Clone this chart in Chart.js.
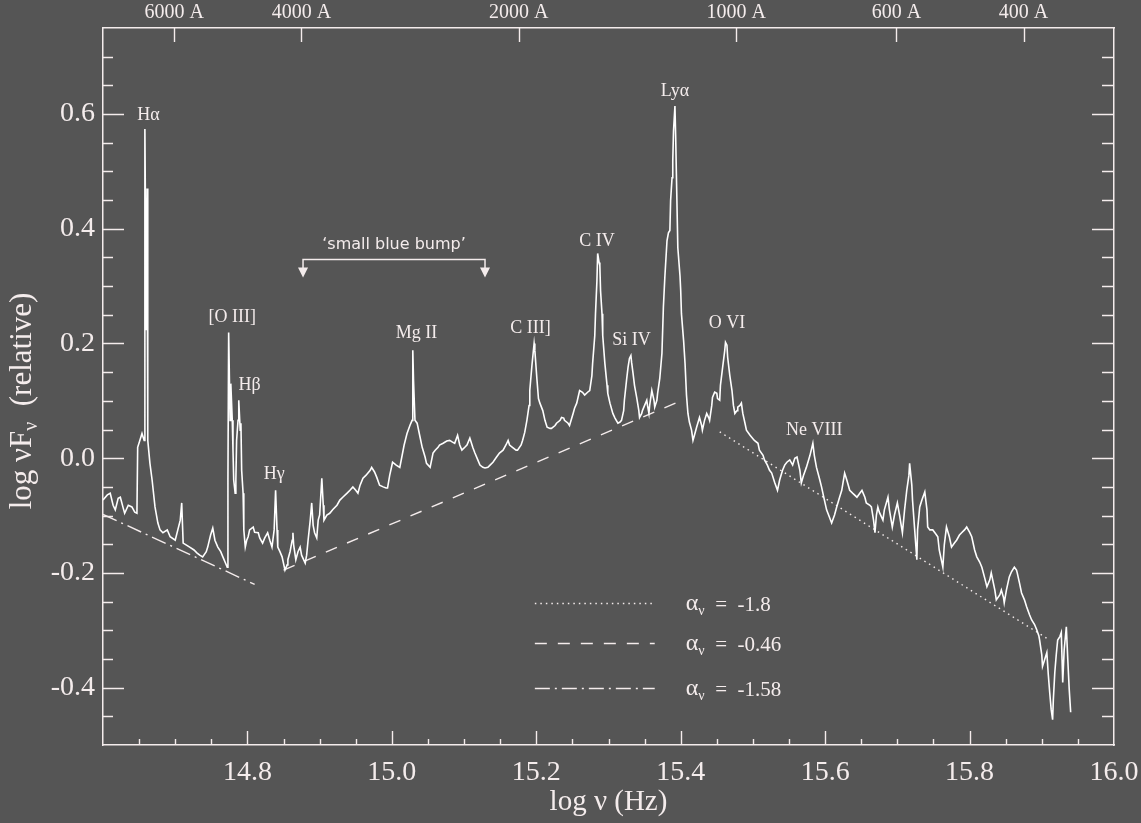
<!DOCTYPE html>
<html><head><meta charset="utf-8">
<script src="https://cdn.jsdelivr.net/npm/chart.js@4.4.1/dist/chart.umd.min.js"></script>
<style>
html,body{margin:0;padding:0;background:#555555;}
#wrap{width:1141px;height:823px;position:relative;}
</style></head><body>
<div id="wrap"><canvas id="c"></canvas></div>
<script>
// ---------- DATA ----------
const logNu = [
14.600,14.606,14.610,14.614,14.617,14.621,14.624,14.628,14.630,14.635,
14.640,14.644,14.647,14.648,14.651,14.654,14.657,14.658,14.660,14.661,
14.662,14.665,14.668,14.672,14.676,14.679,14.683,14.689,14.693,14.700,
14.707,14.709,14.711,14.715,14.720,14.726,14.730,14.734,14.738,14.743,
14.745,14.749,14.752,14.755,14.759,14.763,14.766,14.769,14.772,14.773,
14.774,14.776,14.777,14.779,14.780,14.781,14.783,14.784,14.785,14.787,
14.788,14.790,14.791,14.792,14.794,14.795,14.797,14.799,14.801,14.803,
14.808,14.810,14.815,14.817,14.821,14.824,14.828,14.831,14.834,14.837,
14.839,14.841,14.842,14.845,14.848,14.852,14.855,14.856,14.859,14.862,
14.863,14.864,14.867,14.870,14.873,14.875,14.880,14.882,14.884,14.887,
14.889,14.891,14.893,14.896,14.898,14.900,14.903,14.905,14.906,14.910,
14.914,14.918,14.924,14.928,14.932,14.938,14.942,14.946,14.950,14.953,
14.956,14.960,14.964,14.970,14.972,14.976,14.979,14.983,14.988,14.992,
14.994,14.997,15.001,15.006,15.011,15.017,15.021,15.025,15.028,15.029,
15.030,15.032,15.035,15.039,15.042,15.046,15.048,15.053,15.057,15.060,
15.064,15.066,15.071,15.076,15.080,15.084,15.087,15.091,15.094,15.097,
15.101,15.104,15.108,15.112,15.115,15.119,15.122,15.126,15.129,15.133,
15.136,15.140,15.145,15.149,15.154,15.158,15.161,15.163,15.167,15.172,
15.174,15.179,15.181,15.184,15.187,15.190,15.191,15.194,15.197,15.198,
15.201,15.203,15.205,15.209,15.212,15.215,15.219,15.221,15.226,15.228,
15.233,15.235,15.238,15.239,15.244,15.246,15.251,15.253,15.256,15.260,
15.264,15.267,15.271,15.274,15.277,15.278,15.281,15.282,15.284,15.285,
15.287,15.288,15.289,15.291,15.292,15.295,15.298,15.299,15.302,15.306,
15.309,15.313,15.316,15.318,15.321,15.322,15.325,15.327,15.329,15.331,
15.332,15.334,15.336,15.339,15.342,15.343,15.346,15.347,15.350,15.353,
15.354,15.356,15.357,15.360,15.363,15.364,15.367,15.368,15.371,15.374,
15.376,15.378,15.381,15.383,15.385,15.386,15.388,15.389,15.390,15.392,
15.393,15.394,15.396,15.399,15.400,15.401,15.404,15.406,15.408,15.410,
15.412,15.415,15.417,15.419,15.422,15.426,15.429,15.430,15.433,15.436,
15.439,15.440,15.443,15.444,15.447,15.450,15.451,15.454,15.455,15.458,
15.461,15.462,15.464,15.465,15.468,15.471,15.473,15.475,15.478,15.479,
15.482,15.484,15.486,15.489,15.491,15.496,15.498,15.502,15.507,15.509,
15.514,15.516,15.520,15.523,15.526,15.530,15.534,15.537,15.541,15.544,
15.547,15.551,15.555,15.558,15.561,15.565,15.567,15.570,15.574,15.579,
15.583,15.585,15.588,15.592,15.595,15.599,15.602,15.606,15.609,15.613,
15.616,15.620,15.623,15.627,15.630,15.634,15.638,15.644,15.648,15.651,
15.655,15.657,15.662,15.664,15.667,15.669,15.671,15.673,15.675,15.680,
15.682,15.687,15.689,15.693,15.696,15.700,15.703,15.707,15.710,15.713,
15.716,15.717,15.720,15.721,15.724,15.727,15.728,15.731,15.734,15.738,
15.741,15.742,15.745,15.749,15.752,15.756,15.758,15.763,15.765,15.768,
15.772,15.775,15.779,15.782,15.786,15.789,15.793,15.796,15.800,15.803,
15.807,15.810,15.814,15.817,15.821,15.824,15.828,15.830,15.835,15.837,
15.842,15.844,15.847,15.848,15.851,15.855,15.858,15.862,15.865,15.866,
15.869,15.872,15.876,15.879,15.883,15.886,15.890,15.893,15.896,15.897,
15.900,15.901,15.904,15.907,15.909,15.911,15.913,15.915,15.916,15.918,
15.920,15.922,15.925,15.927,15.929,15.931,15.934,15.936,15.938,15.940
];
const logNuFnu = [
-0.073,-0.064,-0.061,-0.082,-0.090,-0.070,-0.068,-0.087,-0.096,-0.082,
-0.085,-0.094,-0.096,0.019,0.031,0.043,0.031,0.574,0.223,0.470,
0.031,-0.009,-0.038,-0.085,-0.113,-0.125,-0.130,-0.125,-0.137,-0.143,
-0.108,-0.078,-0.148,-0.151,-0.155,-0.160,-0.165,-0.169,-0.172,-0.163,
-0.155,-0.134,-0.122,-0.143,-0.155,-0.163,-0.172,-0.181,-0.190,-0.038,
0.219,0.066,0.130,0.066,0.014,-0.038,-0.061,-0.038,0.031,0.066,
0.101,0.049,0.061,-0.021,-0.061,-0.125,-0.155,-0.143,-0.137,-0.125,
-0.120,-0.129,-0.130,-0.139,-0.148,-0.139,-0.130,-0.143,-0.155,-0.125,
-0.056,-0.125,-0.155,-0.163,-0.172,-0.195,-0.186,-0.177,-0.163,-0.143,
-0.130,-0.151,-0.177,-0.163,-0.155,-0.169,-0.183,-0.169,-0.143,-0.108,
-0.078,-0.117,-0.130,-0.139,-0.108,-0.099,-0.035,-0.082,-0.108,-0.099,
-0.096,-0.090,-0.082,-0.073,-0.068,-0.061,-0.056,-0.050,-0.056,-0.061,
-0.047,-0.035,-0.030,-0.021,-0.016,-0.024,-0.033,-0.047,-0.050,-0.052,
-0.052,-0.030,-0.007,-0.012,-0.016,0.023,0.043,0.057,0.066,0.188,
0.136,0.066,0.061,0.037,0.019,0.002,-0.009,-0.016,0.009,0.014,
0.019,0.023,0.026,0.030,0.031,0.028,0.026,0.040,0.023,0.014,
0.019,0.023,0.035,0.019,0.009,-0.003,-0.012,-0.016,-0.017,-0.016,
-0.012,-0.007,0.002,0.009,0.014,0.023,0.031,0.023,0.019,0.014,
0.014,0.023,0.031,0.045,0.066,0.092,0.118,0.162,0.200,0.188,
0.136,0.104,0.096,0.083,0.066,0.054,0.052,0.052,0.057,0.061,
0.066,0.071,0.070,0.066,0.061,0.057,0.078,0.087,0.096,0.118,
0.115,0.110,0.115,0.118,0.144,0.165,0.214,0.252,0.310,0.357,
0.341,0.336,0.292,0.252,0.214,0.165,0.127,0.113,0.096,0.078,
0.070,0.061,0.063,0.066,0.083,0.101,0.136,0.158,0.174,0.179,
0.167,0.148,0.127,0.106,0.083,0.071,0.078,0.083,0.092,0.101,
0.092,0.078,0.092,0.118,0.101,0.089,0.101,0.113,0.139,0.183,
0.263,0.315,0.379,0.393,0.397,0.449,0.489,0.518,0.570,0.614,
0.562,0.496,0.367,0.318,0.292,0.252,0.205,0.165,0.110,0.078,
0.063,0.049,0.031,0.040,0.054,0.071,0.057,0.049,0.066,0.078,
0.070,0.066,0.092,0.106,0.115,0.113,0.104,0.101,0.127,0.158,
0.188,0.202,0.197,0.176,0.144,0.118,0.092,0.078,0.083,0.089,
0.092,0.096,0.078,0.061,0.049,0.040,0.037,0.031,0.026,0.014,
0.005,-0.003,-0.012,-0.021,-0.026,-0.042,-0.056,-0.038,-0.021,-0.012,
-0.007,-0.003,-0.012,0.000,0.002,-0.021,-0.043,-0.030,-0.016,0.005,
0.026,0.005,-0.016,-0.035,-0.050,-0.073,-0.090,-0.103,-0.113,-0.099,
-0.085,-0.068,-0.056,-0.026,-0.038,-0.056,-0.061,-0.068,-0.061,-0.056,
-0.068,-0.078,-0.082,-0.085,-0.108,-0.130,-0.099,-0.085,-0.094,-0.108,
-0.090,-0.068,-0.090,-0.120,-0.099,-0.078,-0.099,-0.130,-0.090,-0.056,
-0.030,-0.009,-0.047,-0.073,-0.125,-0.177,-0.125,-0.085,-0.073,-0.059,
-0.090,-0.120,-0.125,-0.125,-0.130,-0.137,-0.160,-0.190,-0.151,-0.120,
-0.137,-0.155,-0.148,-0.143,-0.134,-0.130,-0.125,-0.120,-0.129,-0.137,
-0.160,-0.172,-0.181,-0.190,-0.209,-0.224,-0.212,-0.200,-0.230,-0.247,
-0.238,-0.230,-0.243,-0.252,-0.230,-0.207,-0.198,-0.190,-0.195,-0.200,
-0.217,-0.235,-0.247,-0.259,-0.273,-0.282,-0.290,-0.299,-0.310,-0.317,
-0.343,-0.363,-0.351,-0.339,-0.377,-0.409,-0.438,-0.456,-0.421,-0.374,
-0.343,-0.317,-0.311,-0.304,-0.391,-0.334,-0.294,-0.351,-0.403,-0.443
];

// power-law fits (two end points each)
const fitAlpha     = ['-1.8', '-0.46', '-1.58'];
const fitDottedX   = [15.454, 15.907];
const fitDottedY   = [0.046, -0.314];
const fitDashedX   = [14.850, 15.400];
const fitDashedY   = [-0.195, 0.100];
const fitDashDotX  = [14.600, 14.810];
const fitDashDotY  = [-0.098, -0.220];

// emission-line labels
const lineLabels = ['Hα','[O III]','Hβ','Hγ','Mg II','C III]','C IV','Si IV','Lyα','O VI','Ne VIII'];
const labelX     = [14.663, 14.779, 14.803, 14.837, 15.034, 15.192, 15.284, 15.332, 15.392, 15.464, 15.585];
const labelY     = [0.597, 0.245, 0.127, -0.028, 0.217, 0.226, 0.379, 0.205, 0.640, 0.235, 0.049];

// small blue bump bracket
const bumpText  = '‘small blue bump’';
const bumpX     = [14.877, 15.129];
const bumpY     = 0.348;
const bumpTipY  = 0.315;
const bumpTextY = 0.372;

// ticks
const xTickLabels = ['14.8','15.0','15.2','15.4','15.6','15.8','16.0'];
const yTickLabels = ['-0.4','-0.2','0.0','0.2','0.4','0.6'];
const topWavelengths = [6000, 4000, 2000, 1000, 600, 400];
const C_ANGSTROM = 2.9979e18;

// ---------- STYLE / LAYOUT ----------
const FG = '#f4ecec';
const SERIF = '"Liberation Serif", "Times New Roman", serif';
const legendLayout = { x0: 15.198, x1: 15.364, textX: 15.407, rows: [-0.252, -0.323, -0.400] };
const dashes = { dotted: [1.5, 4], dashed: [12, 11], dashdot: [15, 5, 2, 5] };

function pts(xs, ys) { return xs.map((x, i) => ({ x: x, y: ys[i] })); }
function isMult(v, step) { const r = v / step; return Math.abs(r - Math.round(r)) < 1e-6; }
function noPad(s) { s.paddingLeft = 0; s.paddingRight = 0; s.paddingTop = 0; s.paddingBottom = 0; }

const overlay = {
  id: 'overlay',
  afterDraw(chart) {
    const { ctx, chartArea: ca, scales } = chart;
    const sx = scales.x, sy = scales.y, st = scales.xTop;
    ctx.save();
    ctx.strokeStyle = FG; ctx.fillStyle = FG; ctx.lineWidth = 1.4; ctx.setLineDash([]);
    // inward tick marks
    ctx.beginPath();
    sx.ticks.forEach(t => {
      if (t.value <= sx.min + 1e-9 || t.value >= sx.max - 1e-9) return;
      const p = Math.round(sx.getPixelForValue(t.value)) + 0.5;
      const len = isMult(t.value, 0.2) ? 14 : 6;
      ctx.moveTo(p, ca.bottom); ctx.lineTo(p, ca.bottom - len);
    });
    st.ticks.forEach(t => {
      const p = Math.round(st.getPixelForValue(t.value)) + 0.5;
      ctx.moveTo(p, ca.top); ctx.lineTo(p, ca.top + 14);
    });
    sy.ticks.forEach(t => {
      if (t.value <= sy.min + 1e-9 || t.value >= sy.max - 1e-9) return;
      const p = Math.round(sy.getPixelForValue(t.value)) + 0.5;
      const major = isMult(t.value, 0.2);
      ctx.moveTo(ca.left, p); ctx.lineTo(ca.left + (major ? 21 : 10), p);
      ctx.moveTo(ca.right, p); ctx.lineTo(ca.right - (major ? 22 : 12), p);
    });
    ctx.stroke();

    // emission line labels
    ctx.font = '18px ' + SERIF; ctx.textAlign = 'center'; ctx.textBaseline = 'middle';
    lineLabels.forEach((s, i) => ctx.fillText(s, sx.getPixelForValue(labelX[i]), sy.getPixelForValue(labelY[i])));

    // small blue bump bracket
    const bx0 = sx.getPixelForValue(bumpX[0]), bx1 = sx.getPixelForValue(bumpX[1]);
    const by = Math.round(sy.getPixelForValue(bumpY)) + 0.5, btip = sy.getPixelForValue(bumpTipY);
    ctx.lineWidth = 1.5;
    ctx.beginPath();
    ctx.moveTo(bx0, btip - 9); ctx.lineTo(bx0, by); ctx.lineTo(bx1, by); ctx.lineTo(bx1, btip - 9);
    ctx.stroke();
    [bx0, bx1].forEach(bx => {
      ctx.beginPath(); ctx.moveTo(bx - 5, btip - 10); ctx.lineTo(bx + 5, btip - 10); ctx.lineTo(bx, btip); ctx.closePath(); ctx.fill();
    });
    ctx.font = '16px "DejaVu Sans", sans-serif';
    ctx.fillText(bumpText, (bx0 + bx1) / 2, sy.getPixelForValue(bumpTextY));

    // legend
    const styles = [dashes.dotted, dashes.dashed, dashes.dashdot];
    const lx0 = sx.getPixelForValue(legendLayout.x0), lx1 = sx.getPixelForValue(legendLayout.x1);
    const tx = sx.getPixelForValue(legendLayout.textX);
    legendLayout.rows.forEach((ry, i) => {
      const py = Math.round(sy.getPixelForValue(ry)) + 0.5;
      ctx.setLineDash(styles[i]); ctx.lineWidth = 1.4;
      ctx.beginPath(); ctx.moveTo(lx0, py); ctx.lineTo(lx1, py); ctx.stroke();
      ctx.setLineDash([]);
      ctx.textAlign = 'left'; ctx.textBaseline = 'alphabetic';
      ctx.font = '24px ' + SERIF;
      let x = tx;
      ctx.fillText('α', x, py + 6); x += ctx.measureText('α').width;
      ctx.font = '14px ' + SERIF;
      ctx.fillText('ν', x, py + 11); x += ctx.measureText('ν').width;
      ctx.font = '21px ' + SERIF;
      ctx.fillText('  =  ' + fitAlpha[i], x, py + 7);
    });

    // y axis title with subscript
    ctx.save();
    ctx.translate(21, 401); ctx.rotate(-Math.PI / 2);
    const big = '31px ' + SERIF, small = '20px ' + SERIF;
    ctx.font = big; const w1 = ctx.measureText('log νF').width;
    ctx.font = small; const w2 = ctx.measureText('ν').width;
    ctx.font = big; const w3 = ctx.measureText('  (relative)').width;
    let x = -(w1 + w2 + w3) / 2;
    ctx.textAlign = 'left'; ctx.textBaseline = 'alphabetic';
    ctx.font = big; ctx.fillText('log νF', x, 10); x += w1;
    ctx.font = small; ctx.fillText('ν', x, 16); x += w2;
    ctx.font = big; ctx.fillText('  (relative)', x, 10);
    ctx.restore();
    ctx.restore();
  }
};

new Chart(document.getElementById('c'), {
  type: 'scatter',
  data: {
    datasets: [
      { label: 'spectrum', data: pts(logNu, logNuFnu), showLine: true, borderColor: '#ffffff', borderWidth: 1.6, pointRadius: 0, tension: 0 },
      { label: 'α = ' + fitAlpha[0], data: pts(fitDottedX, fitDottedY), showLine: true, borderColor: FG, borderWidth: 1.4, borderDash: dashes.dotted, pointRadius: 0 },
      { label: 'α = ' + fitAlpha[1], data: pts(fitDashedX, fitDashedY), showLine: true, borderColor: FG, borderWidth: 1.4, borderDash: dashes.dashed, pointRadius: 0 },
      { label: 'α = ' + fitAlpha[2], data: pts(fitDashDotX, fitDashDotY), showLine: true, borderColor: FG, borderWidth: 1.4, borderDash: dashes.dashdot, pointRadius: 0 }
    ]
  },
  options: {
    responsive: true, maintainAspectRatio: false, animation: false,
    layout: { padding: 0 },
    plugins: { legend: { display: false }, tooltip: { enabled: false } },
    scales: {
      x: {
        type: 'linear', position: 'bottom', min: 14.6, max: 16.0,
        afterBuildTicks: s => { const t = []; for (let i = 0; i <= 28; i++) t.push({ value: +(14.6 + i * 0.05).toFixed(2) }); s.ticks = t; },
        afterFit: s => { s.height = 78; noPad(s); },
        grid: { display: false, drawTicks: false },
        border: { display: true, color: FG, width: 1.5 },
        ticks: {
          autoSkip: false, maxRotation: 0, padding: 11, color: FG, font: { family: SERIF, size: 28 },
          callback: v => { const s = v.toFixed(1); return (isMult(v, 0.2) && xTickLabels.includes(s)) ? s : ''; }
        },
        title: { display: true, text: 'log ν (Hz)', color: FG, font: { family: SERIF, size: 29 }, padding: { top: 0, bottom: 3 } }
      },
      xTop: {
        type: 'linear', position: 'top', min: 14.6, max: 16.0,
        afterBuildTicks: s => { s.ticks = topWavelengths.map(l => ({ value: Math.log10(C_ANGSTROM / l) })); },
        afterFit: s => { s.height = 28; noPad(s); },
        grid: { display: false, drawTicks: false },
        border: { display: true, color: FG, width: 1.5 },
        ticks: { autoSkip: false, maxRotation: 0, padding: 3, color: FG, font: { family: SERIF, size: 20 },
          callback: (v, i) => topWavelengths[i] + ' A' }
      },
      y: {
        type: 'linear', position: 'left', min: -0.5, max: 0.75,
        afterBuildTicks: s => { const t = []; for (let i = 0; i <= 25; i++) t.push({ value: +(-0.5 + i * 0.05).toFixed(2) }); s.ticks = t; },
        afterFit: s => { s.width = 103; noPad(s); },
        grid: { display: false, drawTicks: false },
        border: { display: true, color: FG, width: 1.5 },
        ticks: {
          autoSkip: false, padding: 8, color: FG, font: { family: SERIF, size: 28 },
          callback: v => { const s = v.toFixed(1); return (isMult(v, 0.2) && yTickLabels.includes(s)) ? s : ''; }
        }
      },
      yRight: {
        type: 'linear', position: 'right', min: -0.5, max: 0.75,
        afterFit: s => { s.width = 27; noPad(s); },
        grid: { display: false, drawTicks: false },
        border: { display: true, color: FG, width: 1.5 },
        ticks: { display: false }
      }
    }
  },
  plugins: [overlay]
});
</script>
</body></html>
